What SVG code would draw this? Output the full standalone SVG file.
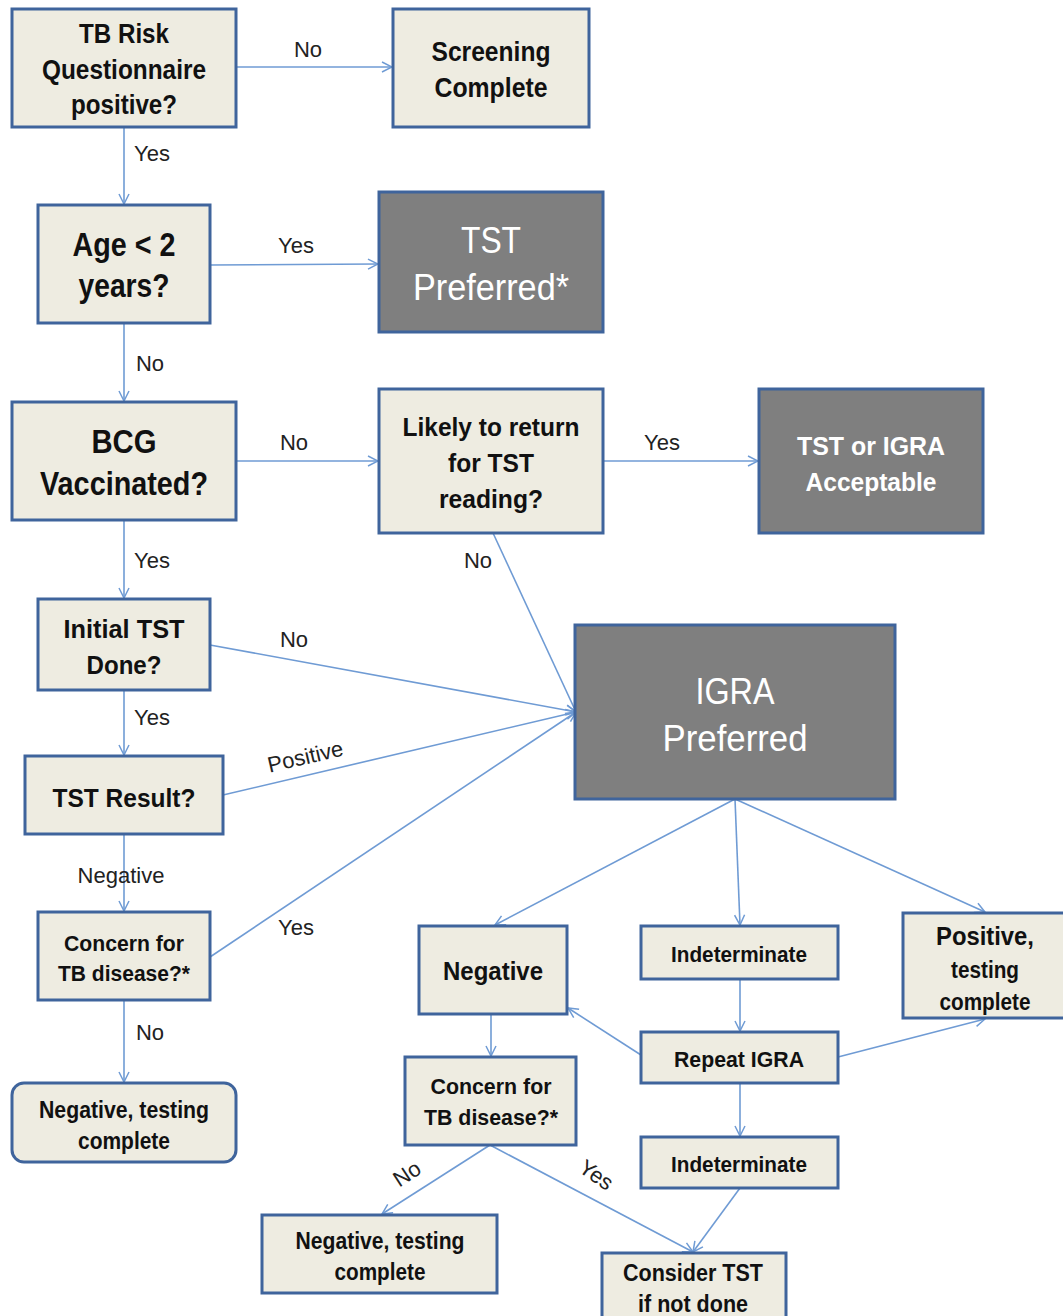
<svg xmlns="http://www.w3.org/2000/svg" width="1063" height="1316" viewBox="0 0 1063 1316">
<defs>
<marker id="arr" viewBox="0 0 12 12" refX="11" refY="6" markerWidth="12" markerHeight="12" markerUnits="userSpaceOnUse" orient="auto">
<path d="M1,1 L11,6 L1,11" fill="none" stroke="#6f9bd4" stroke-width="1.5"/>
</marker>
<style>
.lt{fill:#eeece1;stroke:#3f649c;stroke-width:3}
.dk{fill:#7f7f7f;stroke:#3f649c;stroke-width:3}
.t{font-family:"Liberation Sans",Arial,sans-serif;font-weight:bold;fill:#111;text-anchor:middle}
.w{font-family:"Liberation Sans",Arial,sans-serif;fill:#fff;text-anchor:middle}
.wb{font-family:"Liberation Sans",Arial,sans-serif;font-weight:bold;fill:#fff;text-anchor:middle}
.lb{font-family:"Liberation Sans",Arial,sans-serif;font-size:22px;fill:#222;text-anchor:middle}
.c{fill:none;stroke:#6f9bd4;stroke-width:1.6;marker-end:url(#arr)}
</style>
</defs>
<rect width="1063" height="1316" fill="#fff"/>
<g id="connectors">
<line class="c" x1="236" y1="67" x2="392" y2="67"/>
<line class="c" x1="124" y1="127" x2="124" y2="204"/>
<line class="c" x1="210" y1="265" x2="378" y2="264"/>
<line class="c" x1="124" y1="323" x2="124" y2="401"/>
<line class="c" x1="236" y1="461" x2="378" y2="461"/>
<line class="c" x1="603" y1="461" x2="758" y2="461"/>
<line class="c" x1="493" y1="533" x2="576" y2="712"/>
<line class="c" x1="124" y1="520" x2="124" y2="598"/>
<line class="c" x1="210" y1="645" x2="576" y2="712"/>
<line class="c" x1="124" y1="690" x2="124" y2="755"/>
<line class="c" x1="223" y1="795" x2="576" y2="712"/>
<line class="c" x1="124" y1="834" x2="124" y2="911"/>
<line class="c" x1="210" y1="957" x2="576" y2="712"/>
<line class="c" x1="124" y1="1000" x2="124" y2="1082"/>
<line class="c" x1="735" y1="799" x2="495" y2="925"/>
<line class="c" x1="735" y1="799" x2="740" y2="925"/>
<line class="c" x1="735" y1="799" x2="985" y2="912"/>
<line class="c" x1="740" y1="979" x2="740" y2="1031"/>
<line class="c" x1="641" y1="1055" x2="568" y2="1008"/>
<line class="c" x1="838" y1="1057" x2="985" y2="1019"/>
<line class="c" x1="740" y1="1083" x2="740" y2="1136"/>
<line class="c" x1="491" y1="1014" x2="491" y2="1056"/>
<line class="c" x1="490" y1="1145" x2="382" y2="1214"/>
<line class="c" x1="490" y1="1145" x2="693" y2="1252"/>
<line class="c" x1="740" y1="1188" x2="693" y2="1252"/>
</g>
<g id="edge-labels">
<text class="lb" x="308" y="57">No</text>
<text class="lb" x="152" y="161">Yes</text>
<text class="lb" x="296" y="253">Yes</text>
<text class="lb" x="150" y="371">No</text>
<text class="lb" x="294" y="450">No</text>
<text class="lb" x="662" y="450">Yes</text>
<text class="lb" x="478" y="568">No</text>
<text class="lb" x="152" y="568">Yes</text>
<text class="lb" x="294" y="647">No</text>
<text class="lb" x="152" y="725">Yes</text>
<text class="lb" transform="translate(307,764) rotate(-13)" x="0" y="0">Positive</text>
<text class="lb" x="121" y="883">Negative</text>
<text class="lb" x="296" y="935">Yes</text>
<text class="lb" x="150" y="1040">No</text>
<text class="lb" transform="translate(411,1180) rotate(-33)" x="0" y="0">No</text>
<text class="lb" transform="translate(592,1181) rotate(35)" x="0" y="0">Yes</text>
</g>
<g id="n1"><rect class="lt" x="12" y="9" width="224" height="118"/>
<text class="t" font-size="27" x="124" y="43" textLength="90" lengthAdjust="spacingAndGlyphs">TB Risk</text>
<text class="t" font-size="27" x="124" y="79" textLength="164" lengthAdjust="spacingAndGlyphs">Questionnaire</text>
<text class="t" font-size="27" x="124" y="114" textLength="106" lengthAdjust="spacingAndGlyphs">positive?</text></g>
<g id="n2"><rect class="lt" x="393" y="9" width="196" height="118"/>
<text class="t" font-size="27" x="491" y="61" textLength="119" lengthAdjust="spacingAndGlyphs">Screening</text>
<text class="t" font-size="27" x="491" y="97" textLength="113" lengthAdjust="spacingAndGlyphs">Complete</text></g>
<g id="n3"><rect class="lt" x="38" y="205" width="172" height="118"/>
<text class="t" font-size="34" x="124" y="256" textLength="103" lengthAdjust="spacingAndGlyphs">Age &lt; 2</text>
<text class="t" font-size="34" x="124" y="297" textLength="91" lengthAdjust="spacingAndGlyphs">years?</text></g>
<g id="n4"><rect class="dk" x="379" y="192" width="224" height="140"/>
<text class="w" font-size="36" x="491" y="253" textLength="60" lengthAdjust="spacingAndGlyphs">TST</text>
<text class="w" font-size="36" x="491" y="300" textLength="156" lengthAdjust="spacingAndGlyphs">Preferred*</text></g>
<g id="n5"><rect class="lt" x="12" y="402" width="224" height="118"/>
<text class="t" font-size="34" x="124" y="453" textLength="65" lengthAdjust="spacingAndGlyphs">BCG</text>
<text class="t" font-size="34" x="124" y="495" textLength="168" lengthAdjust="spacingAndGlyphs">Vaccinated?</text></g>
<g id="n6"><rect class="lt" x="379" y="389" width="224" height="144"/>
<text class="t" font-size="26" x="491" y="436" textLength="177" lengthAdjust="spacingAndGlyphs">Likely to return</text>
<text class="t" font-size="26" x="491" y="472" textLength="86" lengthAdjust="spacingAndGlyphs">for TST</text>
<text class="t" font-size="26" x="491" y="508" textLength="104" lengthAdjust="spacingAndGlyphs">reading?</text></g>
<g id="n7"><rect class="dk" x="759" y="389" width="224" height="144"/>
<text class="wb" font-size="26" x="871" y="455" textLength="148" lengthAdjust="spacingAndGlyphs">TST or IGRA</text>
<text class="wb" font-size="26" x="871" y="491" textLength="131" lengthAdjust="spacingAndGlyphs">Acceptable</text></g>
<g id="n8"><rect class="lt" x="38" y="599" width="172" height="91"/>
<text class="t" font-size="26" x="124" y="638" textLength="121" lengthAdjust="spacingAndGlyphs">Initial  TST</text>
<text class="t" font-size="26" x="124" y="674" textLength="75" lengthAdjust="spacingAndGlyphs">Done?</text></g>
<g id="n9"><rect class="dk" x="575" y="625" width="320" height="174"/>
<text class="w" font-size="36" x="735" y="704" textLength="79" lengthAdjust="spacingAndGlyphs">IGRA</text>
<text class="w" font-size="36" x="735" y="751" textLength="145" lengthAdjust="spacingAndGlyphs">Preferred</text></g>
<g id="n10"><rect class="lt" x="25" y="756" width="198" height="78"/>
<text class="t" font-size="26" x="124" y="807" textLength="143" lengthAdjust="spacingAndGlyphs">TST Result?</text></g>
<g id="n11"><rect class="lt" x="38" y="912" width="172" height="88"/>
<text class="t" font-size="22" x="124" y="951" textLength="120" lengthAdjust="spacingAndGlyphs">Concern for</text>
<text class="t" font-size="22" x="124" y="981" textLength="132" lengthAdjust="spacingAndGlyphs">TB disease?*</text></g>
<g id="n12"><rect class="lt" x="12" y="1083" width="224" height="79" rx="12"/>
<text class="t" font-size="23" x="124" y="1118" textLength="170" lengthAdjust="spacingAndGlyphs">Negative, testing</text>
<text class="t" font-size="23" x="124" y="1149" textLength="92" lengthAdjust="spacingAndGlyphs">complete</text></g>
<g id="n13"><rect class="lt" x="419" y="926" width="148" height="88"/>
<text class="t" font-size="26" x="493" y="980" textLength="100" lengthAdjust="spacingAndGlyphs">Negative</text></g>
<g id="n14"><rect class="lt" x="641" y="926" width="197" height="53"/>
<text class="t" font-size="22" x="739" y="962" textLength="136" lengthAdjust="spacingAndGlyphs">Indeterminate</text></g>
<g id="n15"><rect class="lt" x="903" y="913" width="163" height="105"/>
<text class="t" font-size="25" x="985" y="945" textLength="98" lengthAdjust="spacingAndGlyphs">Positive,</text>
<text class="t" font-size="23" x="985" y="978" textLength="68" lengthAdjust="spacingAndGlyphs">testing</text>
<text class="t" font-size="23" x="985" y="1010" textLength="91" lengthAdjust="spacingAndGlyphs">complete</text></g>
<g id="n16"><rect class="lt" x="641" y="1032" width="197" height="51"/>
<text class="t" font-size="22" x="739" y="1067" textLength="130" lengthAdjust="spacingAndGlyphs">Repeat IGRA</text></g>
<g id="n17"><rect class="lt" x="405" y="1057" width="171" height="88"/>
<text class="t" font-size="22" x="491" y="1094" textLength="121" lengthAdjust="spacingAndGlyphs">Concern for</text>
<text class="t" font-size="22" x="491" y="1125" textLength="134" lengthAdjust="spacingAndGlyphs">TB disease?*</text></g>
<g id="n18"><rect class="lt" x="641" y="1137" width="197" height="51"/>
<text class="t" font-size="22" x="739" y="1172" textLength="136" lengthAdjust="spacingAndGlyphs">Indeterminate</text></g>
<g id="n19"><rect class="lt" x="262" y="1215" width="235" height="78"/>
<text class="t" font-size="23" x="380" y="1249" textLength="169" lengthAdjust="spacingAndGlyphs">Negative, testing</text>
<text class="t" font-size="23" x="380" y="1280" textLength="91" lengthAdjust="spacingAndGlyphs">complete</text></g>
<g id="n20"><rect class="lt" x="602" y="1253" width="184" height="70"/>
<text class="t" font-size="23" x="693" y="1281" textLength="140" lengthAdjust="spacingAndGlyphs">Consider TST</text>
<text class="t" font-size="23" x="693" y="1312" textLength="110" lengthAdjust="spacingAndGlyphs">if not done</text></g>
</svg>
